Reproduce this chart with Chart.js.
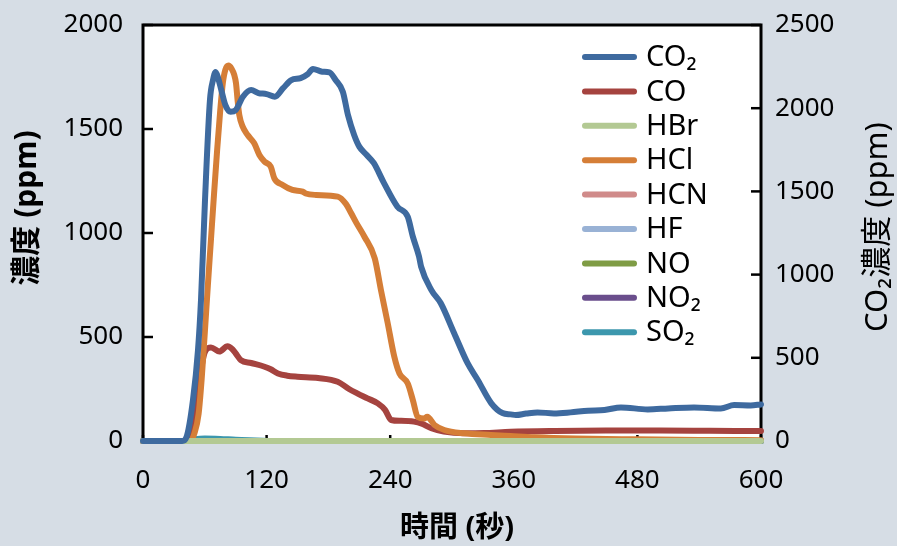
<!DOCTYPE html>
<html>
<head>
<meta charset="utf-8">
<script src="https://cdn.jsdelivr.net/npm/chart.js@4.4.1/dist/chart.umd.min.js"></script>
<style>
  html, body { margin: 0; padding: 0; background: #d6dde5; }
  #wrap { width: 897px; height: 546px; }
</style>
</head>
<body>
<div id="wrap"><canvas id="c" width="897" height="546"></canvas></div>
<script>
// ---- data (time in seconds) ----
const seriesNames = ["CO\u2082", "CO", "HBr", "HCl", "HCN", "HF", "NO", "NO\u2082", "SO\u2082"];

const co2Time = [0, 38, 42, 48.5, 53.4, 56.3, 60.2, 65, 68, 70.5, 73, 76, 80, 85, 90, 97, 105, 112, 120, 128, 136, 144, 153, 160, 165, 174, 181, 187, 194, 199, 205, 210, 217, 224, 234, 247, 257, 262, 268, 270, 280, 289, 302, 315, 325, 338, 349, 357, 362, 372, 383, 399, 415, 432, 448, 464, 490, 510, 535, 561, 574, 590, 600];
const co2Values = [0, 0, 20, 246, 547, 847, 1448, 2049, 2170, 2218, 2180, 2110, 2019, 1979, 1989, 2069, 2109, 2091, 2085, 2069, 2120, 2169, 2181, 2205, 2236, 2219, 2215, 2169, 2099, 1959, 1839, 1769, 1720, 1671, 1550, 1408, 1348, 1228, 1108, 1048, 907, 829, 649, 469, 367, 228, 168, 160, 156, 165, 172, 166, 172, 182, 186, 202, 190, 196, 202, 196, 216, 214, 220];

const coTime = [0, 42, 48, 53, 57, 61, 66, 74, 82, 87, 90, 95, 105, 118, 124, 131, 140, 150, 170, 189, 200, 208, 218, 228, 235, 241, 250, 263, 270, 280, 292, 312, 331, 357, 400, 450, 500, 550, 600];
const coValues = [0, 0, 50, 180, 360, 437, 450, 430, 455, 440, 421, 389, 375, 357, 345, 325, 314, 309, 303, 285, 250, 229, 205, 181, 150, 101, 97, 93, 85, 61, 45, 37, 38, 44, 48, 50, 50, 49, 48];

const hclTime = [0, 46, 50, 54, 57, 60, 63, 66, 69, 72, 75, 77.5, 80, 83, 86, 88.6, 90.3, 92, 93.5, 96.8, 101.6, 108, 113, 118, 124, 127.5, 135.6, 145, 155, 158, 168, 189, 197, 202, 207, 215, 225, 231, 237.6, 244, 249, 257, 262, 266.7, 273, 276, 283, 292.5, 312, 338, 357, 380, 420, 480, 540, 600];
const hclValues = [0, 0, 38, 130, 300, 520, 750, 970, 1190, 1400, 1590, 1720, 1785, 1805, 1790, 1760, 1720, 1630, 1567, 1511, 1471, 1431, 1375, 1343, 1319, 1263, 1231, 1207, 1199, 1190, 1183, 1175, 1140, 1096, 1050, 982, 878, 726, 566, 405, 325, 277, 197, 116, 108, 116, 77, 53, 37, 29, 24, 18, 12, 8, 5, 4];

const zeroTime = [0, 600];
const hbrValues = [0, 0];
const hcnValues = [0, 0];
const hfValues = [0, 0];
const noValues = [0, 0];
const no2Values = [0, 0];

const so2Time = [0, 42, 50, 60, 75, 90, 110, 130, 600];
const so2Values = [0, 0, 8, 12, 10, 6, 3, 0, 0];

const xTicks = [0, 120, 240, 360, 480, 600];

function pts(ts, vs) { return ts.map((t, i) => ({ x: t, y: vs[i] })); }

const colors = ["#3e6a9f", "#a5433f", "#b3c993", "#d57e37", "#d08b8a", "#99b2d5", "#7f9c45", "#6a4e8c", "#3c97ad"];

const seriesData = [
  { d: pts(co2Time, co2Values), axis: "y2", order: 0 },
  { d: pts(coTime, coValues), axis: "y", order: 3 },
  { d: pts(zeroTime, hbrValues), axis: "y", order: 1 },
  { d: pts(hclTime, hclValues), axis: "y", order: 2 },
  { d: pts(zeroTime, hcnValues), axis: "y", order: 8 },
  { d: pts(zeroTime, hfValues), axis: "y", order: 7 },
  { d: pts(zeroTime, noValues), axis: "y", order: 6 },
  { d: pts(zeroTime, no2Values), axis: "y", order: 5 },
  { d: pts(so2Time, so2Values), axis: "y", order: 4 }
];

const datasets = seriesData.map((s, i) => ({
  label: seriesNames[i],
  data: s.d,
  yAxisID: s.axis,
  order: s.order,
  borderColor: colors[i],
  backgroundColor: colors[i],
  borderWidth: 6,
  pointRadius: 0,
  borderCapStyle: "round",
  borderJoinStyle: "round",
  cubicInterpolationMode: "monotone",
  clip: 8,
  fill: false
}));

const FONT = '"Noto Sans", "Noto Sans CJK JP", sans-serif';
const TICKFONT = { family: FONT, size: 26 };
const plain = v => String(v);

const framePlugin = {
  id: "frame",
  beforeDatasetsDraw(chart) {
    const { ctx, chartArea: a } = chart;
    ctx.save();
    ctx.fillStyle = "#ffffff";
    ctx.fillRect(a.left, a.top, a.right - a.left, a.bottom - a.top);
    ctx.strokeStyle = "#000";
    ctx.lineWidth = 3;
    ctx.beginPath();
    ctx.moveTo(a.left, a.bottom);
    ctx.lineTo(a.left, a.top);
    ctx.lineTo(a.right, a.top);
    ctx.lineTo(a.right, a.bottom);
    ctx.stroke();
    ctx.lineWidth = 2.5;
    const y = chart.scales.y, y2 = chart.scales.y2, x = chart.scales.x;
    y.ticks.forEach(t => {
      const p = y.getPixelForValue(t.value);
      ctx.beginPath(); ctx.moveTo(a.left, p); ctx.lineTo(a.left + 10, p); ctx.stroke();
    });
    y2.ticks.forEach(t => {
      const p = y2.getPixelForValue(t.value);
      ctx.beginPath(); ctx.moveTo(a.right, p); ctx.lineTo(a.right - 10, p); ctx.stroke();
    });
    x.ticks.forEach(t => {
      const p = x.getPixelForValue(t.value);
      ctx.beginPath(); ctx.moveTo(p, a.bottom); ctx.lineTo(p, a.bottom - 6); ctx.stroke();
    });
    ctx.restore();
  },
  afterDraw(chart) {
    const { ctx } = chart;
    ctx.save();
    ctx.font = '29px ' + FONT;
    ctx.textBaseline = "middle";
    ctx.textAlign = "left";
    chart.data.datasets.forEach((ds, i) => {
      const yy = 57 + i * 34.4;
      ctx.strokeStyle = ds.borderColor;
      ctx.lineWidth = 6;
      ctx.lineCap = "round";
      ctx.beginPath(); ctx.moveTo(585, yy); ctx.lineTo(634, yy); ctx.stroke();
      ctx.fillStyle = "#000";
      ctx.fillText(ds.label, 646, yy + 1);
    });
    ctx.textAlign = "center";
    ctx.fillStyle = "#000";
    ctx.font = 'bold 30px ' + FONT;
    ctx.save();
    ctx.translate(27, 208);
    ctx.rotate(-Math.PI / 2);
    ctx.fillText("濃度 (ppm)", 0, 0);
    ctx.restore();
    ctx.font = '31px ' + FONT;
    ctx.save();
    ctx.translate(878, 227);
    ctx.rotate(-Math.PI / 2);
    ctx.fillText("CO\u2082濃度 (ppm)", 0, 0);
    ctx.restore();
    ctx.font = 'bold 29px ' + FONT;
    ctx.fillText("時間 (秒)", 457, 529);
    ctx.restore();
  }
};

const noPad = s => { s.paddingTop = 0; s.paddingBottom = 0; };

new Chart(document.getElementById("c"), {
  type: "line",
  data: { datasets },
  options: {
    responsive: false,
    animation: false,
    devicePixelRatio: 1,
    layout: { padding: { top: 25, left: 0, right: 0, bottom: 0 } },
    plugins: { legend: { display: false }, tooltip: { enabled: false } },
    scales: {
      x: {
        type: "linear", min: 0, max: 600,
        afterBuildTicks: s => { s.ticks = xTicks.map(v => ({ value: v })); },
        ticks: { font: TICKFONT, color: "#000", padding: 24, maxRotation: 0, callback: plain },
        grid: { display: false, drawTicks: false },
        border: { display: false },
        afterFit: s => { s.height = 105; s.paddingLeft = 0; s.paddingRight = 0; }
      },
      y: {
        position: "left", min: 0, max: 2000,
        ticks: { stepSize: 500, font: TICKFONT, color: "#000", padding: 20, callback: plain },
        grid: { display: false, drawTicks: false },
        border: { display: false },
        afterFit: s => { s.width = 143; noPad(s); }
      },
      y2: {
        position: "right", min: 0, max: 2500,
        ticks: { stepSize: 500, font: TICKFONT, color: "#000", padding: 14, callback: plain },
        grid: { display: false, drawTicks: false },
        border: { display: false },
        afterFit: s => { s.width = 136; noPad(s); }
      }
    }
  },
  plugins: [framePlugin]
});
</script>
</body>
</html>
